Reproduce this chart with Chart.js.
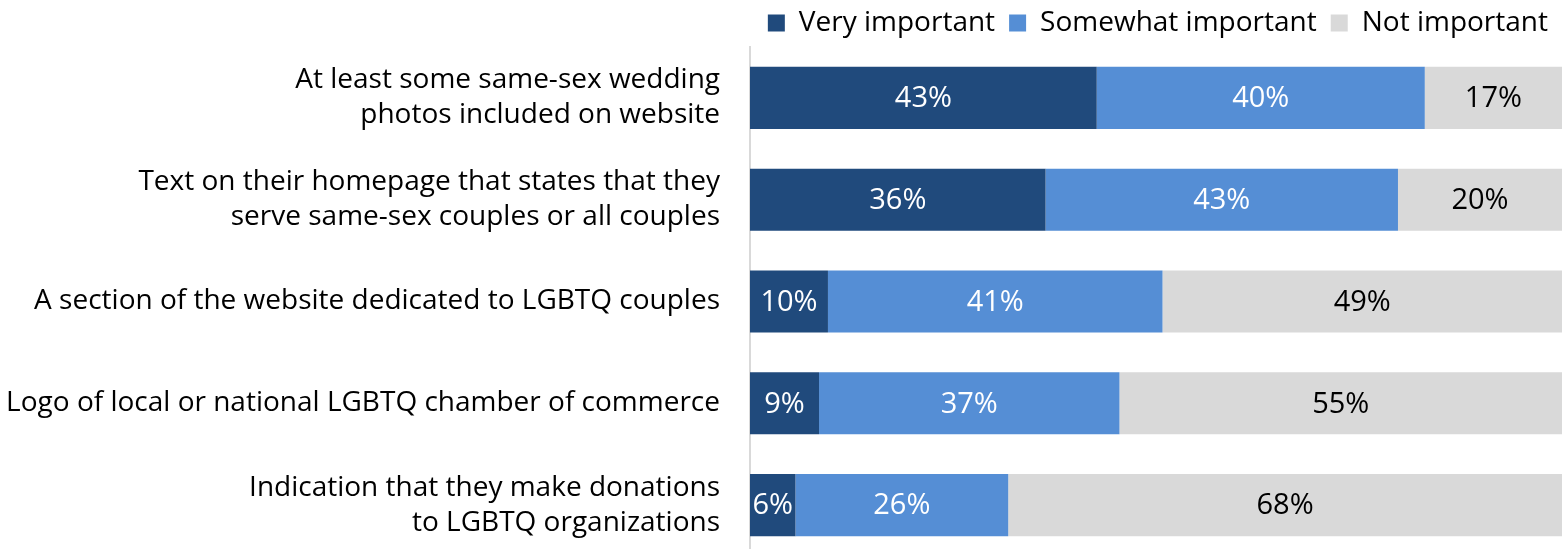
<!DOCTYPE html>
<html>
<head>
<meta charset="utf-8">
<script src="https://cdn.jsdelivr.net/npm/chart.js@4/dist/chart.umd.min.js"></script>
<style>
html,body{margin:0;padding:0;background:#fff;overflow:hidden;}
canvas{display:block;}
</style>
</head>
<body>
<canvas id="chart" width="1562" height="556"></canvas>
<script>
// categories, one array per line of the axis label
const categories = [
  ['At least some same-sex wedding', 'photos included on website'],
  ['Text on their homepage that states that they', 'serve same-sex couples or all couples'],
  ['A section of the website dedicated to LGBTQ couples'],
  ['Logo of local or national LGBTQ chamber of commerce'],
  ['Indication that they make donations', 'to LGBTQ organizations']
];

const seriesNames = ['Very important', 'Somewhat important', 'Not important'];

// shares in % (labels show them rounded)
const veryImportant = [42.7, 36.4, 9.6, 8.5, 5.6];
const somewhatImportant = [40.4, 43.4, 41.2, 37.0, 26.2];
const notImportant = [16.9, 20.2, 49.2, 54.5, 68.2];

const FONT = "'Open Sans', 'Liberation Sans', sans-serif";

// draws the rounded value in the middle of each bar
const barLabels = {
  id: 'barLabels',
  afterDatasetsDraw(chart){
    const ctx = chart.ctx;
    ctx.save();
    ctx.font = '29px ' + FONT;
    ctx.textAlign = 'center';
    ctx.textBaseline = 'middle';
    chart.data.datasets.forEach((ds, i) => {
      const meta = chart.getDatasetMeta(i);
      meta.data.forEach((bar, j) => {
        const p = bar.getProps(['x', 'base', 'y'], true);
        ctx.fillStyle = ds.labelColor;
        ctx.fillText(Math.round(ds.data[j]) + '%', (p.x + p.base) / 2, p.y + 1);
      });
    });
    ctx.restore();
  }
};

new Chart(
  document.getElementById('chart'),
  {
    type: 'bar',
    data: {
      labels: categories,
      datasets: [
        {label: seriesNames[0], data: veryImportant, backgroundColor: '#204A7C', labelColor: '#ffffff'},
        {label: seriesNames[1], data: somewhatImportant, backgroundColor: '#558ED5', labelColor: '#ffffff'},
        {label: seriesNames[2], data: notImportant, backgroundColor: '#D9D9D9', labelColor: '#000000'}
      ]
    },
    options: {
      indexAxis: 'y',
      responsive: false,
      animation: false,
      barPercentage: 0.61,
      categoryPercentage: 1,
      layout: {padding: {top: -8, right: 0, left: 0, bottom: 0}},
      plugins: {
        tooltip: {enabled: false},
        legend: {
          position: 'top',
          align: 'end',
          labels: {
            boxWidth: 17,
            boxHeight: 17,
            padding: 14,
            color: '#000',
            font: {family: FONT, size: 28}
          }
        }
      },
      scales: {
        x: {
          stacked: true,
          min: 0,
          max: 100,
          display: false
        },
        y: {
          stacked: true,
          grid: {display: false, drawTicks: false},
          border: {display: true, color: '#D9D9D9', width: 2},
          ticks: {
            color: '#000',
            padding: 30,
            font: {family: FONT, size: 28, lineHeight: 1.25}
          },
          afterFit(scale){
            // fixed label column, plot area starts 47px down
            scale.width = 750;
            scale.paddingTop = 47;
            scale.paddingBottom = 0;
          }
        }
      }
    },
    plugins: [barLabels]
  }
);
</script>
</body>
</html>
